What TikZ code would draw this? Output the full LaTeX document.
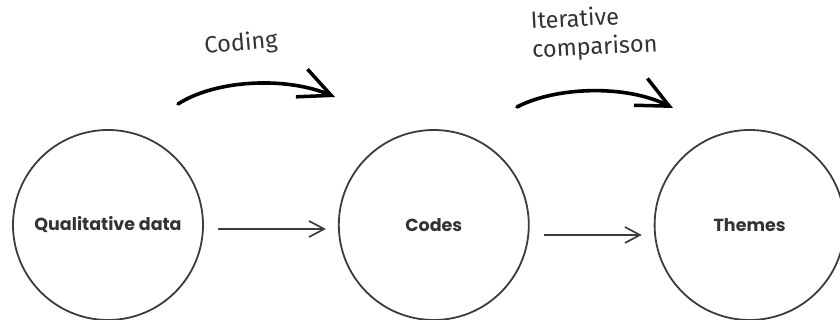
\documentclass[tikz,border=0pt]{standalone}
\usepackage{fontspec}
\setmainfont{Poppins}
\newfontfamily\handfont{Fira Sans}
\usetikzlibrary{
  arrows.meta,
  calc,
  positioning
}
\definecolor{ringGray}{HTML}{3C3C3C}
\definecolor{textGray}{HTML}{333333}
\tikzset{
  stage/.style={
    circle,
    draw=ringGray,
    line width=1.8pt,
    minimum size=190pt,
    inner sep=0pt,
    font=\fontsize{17.5}{20}\selectfont\bfseries,
    text=textGray
  },
  flow/.style={-{Straight Barb[length=15pt, width=16pt]}, line width=1.7pt, draw=ringGray,
    shorten <=14pt, shorten >=12pt},
  swoosh/.style={-{Straight Barb[length=32pt, width=30pt, line width=3.5pt]}, line width=3.6pt,
    draw=black, line cap=round},
  hand/.style={font=\handfont\fontsize{23.5}{29}\selectfont, text=black!80, align=left}
}

\begin{document}
\begin{tikzpicture}[x=1pt, y=1pt, node distance=8mm and 134pt]

\useasboundingbox (0,0) rectangle (840,320);

% --- Stages ---
\node[stage] (qual) at (108,95) {Qualitative data};
\node[stage, right=of qual] (codes) {Codes};
\node[stage, right=124pt of codes] (themes) {Themes};

\draw[flow] ([yshift=-4pt]qual.east) -- ([yshift=-4pt]codes.west);
\draw[flow] ([yshift=-10pt]codes.east) -- ([yshift=-10pt]themes.west);

% --- Process arrows ---
\coordinate (codingStart) at (178,216);
\coordinate (codingEnd) at (335,223);
\coordinate (iterStart) at (517,213);
\coordinate (iterEnd) at (673,212);

\draw[swoosh] (codingStart) .. controls (215,240) and (285,244) .. (codingEnd);
\draw[swoosh] (iterStart) .. controls (555,233) and (625,236) .. (iterEnd);

\node[hand, rotate=5] (coding) at (241,276) {Coding};
\node[hand, anchor=west, rotate=3] (iter) at (528,283) {Iterative\\comparison};

\end{tikzpicture}
\end{document}
